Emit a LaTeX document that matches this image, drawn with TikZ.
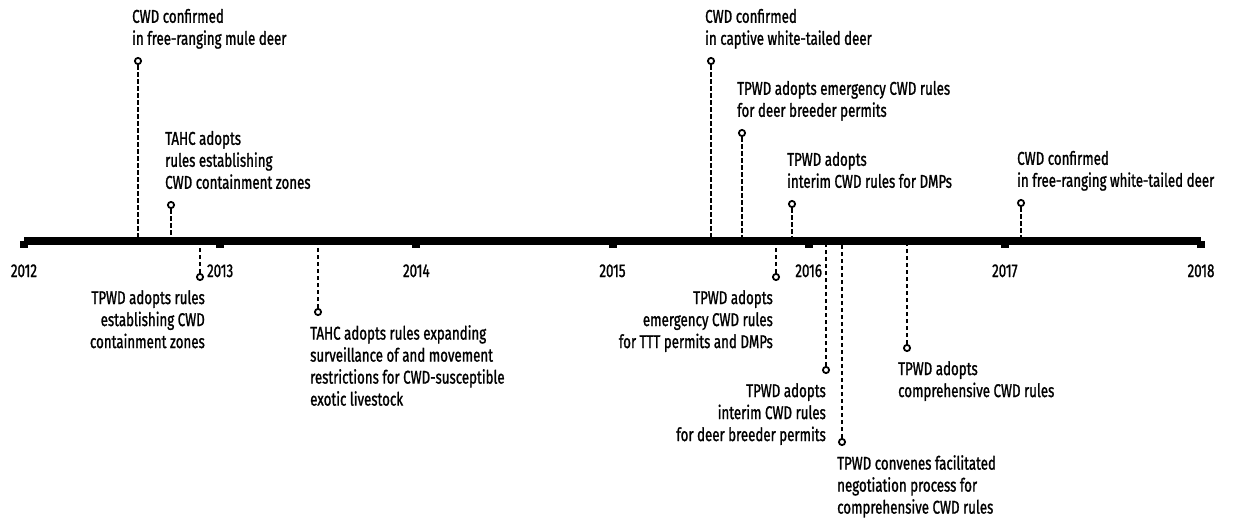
\documentclass[tikz,border=0pt]{standalone}
\usepackage{fontspec}
\setmainfont{Fira Sans}[FakeStretch=0.72, FakeBold=1.2]
\usetikzlibrary{positioning}
\definecolor{inkblack}{HTML}{000000}

\begin{document}
\begin{tikzpicture}[x=1pt, y=-1pt,
    every node/.style={font=\fontsize{18.5}{22}\selectfont, inner sep=0pt, inkblack},
    evdot/.style={circle, draw=inkblack, line width=1.8pt, minimum size=6.2pt, fill=white},
    evstem/.style={inkblack, line width=1.7pt, dash pattern=on 4.5pt off 2.5pt},
    uplabel/.style={anchor=south west, align=left, execute at end node=\strut},
    downleft/.style={anchor=north west, align=left, execute at begin node=\strut},
    downright/.style={anchor=north east, align=right, execute at begin node=\strut}]
  \useasboundingbox (0,0) rectangle (1236,522);

  % Hitos sobre el eje
  \node[evdot] (d1) at (138,61) {};
  \coordinate (a1) at (138,241);
  \draw[evstem] (d1) -- (a1);
  \node[uplabel] (t1) at (132,51.6) {CWD confirmed\\in free-ranging mule deer};

  \node[evdot] (d2) at (171,205) {};
  \coordinate (a2) at (171,241);
  \draw[evstem] (d2) -- (a2);
  \node[uplabel] (t2) at (165,195.6) {TAHC adopts\\rules establishing\\CWD containment zones};

  \node[evdot] (d3) at (711,61) {};
  \coordinate (a3) at (711,241);
  \draw[evstem] (d3) -- (a3);
  \node[uplabel] (t3) at (705,51.6) {CWD confirmed\\in captive white-tailed deer};

  \node[evdot] (d4) at (742,133) {};
  \coordinate (a4) at (742,241);
  \draw[evstem] (d4) -- (a4);
  \node[uplabel] (t4) at (737,123.6) {TPWD adopts emergency CWD rules\\for deer breeder permits};

  \node[evdot] (d5) at (792,204) {};
  \coordinate (a5) at (792,241);
  \draw[evstem] (d5) -- (a5);
  \node[uplabel] (t5) at (787,194.6) {TPWD adopts\\interim CWD rules for DMPs};

  \node[evdot] (d6) at (1021,203) {};
  \coordinate (a6) at (1021,241);
  \draw[evstem] (d6) -- (a6);
  \node[uplabel] (t6) at (1017,193.6) {CWD confirmed\\in free-ranging white-tailed deer};

  % Hitos bajo el eje
  \node[evdot] (d7) at (200,277) {};
  \coordinate (a7) at (200,241);
  \draw[evstem] (d7) -- (a7);
  \node[downright] (t7) at (205,290) {TPWD adopts rules\\establishing CWD\\containment zones};

  \node[evdot] (d8) at (318,312) {};
  \coordinate (a8) at (318,241);
  \draw[evstem] (d8) -- (a8);
  \node[downleft] (t8) at (310,325) {TAHC adopts rules expanding\\surveillance of and movement\\restrictions for CWD-susceptible\\exotic livestock};

  \node[evdot] (d9) at (776,277) {};
  \coordinate (a9) at (776,241);
  \draw[evstem] (d9) -- (a9);
  \node[downright] (t9) at (773,290) {TPWD adopts\\emergency CWD rules\\for TTT permits and DMPs};

  \node[evdot] (d10) at (826,370) {};
  \coordinate (a10) at (826,241);
  \draw[evstem] (d10) -- (a10);
  \node[downright] (t10) at (826,383) {TPWD adopts\\interim CWD rules\\for deer breeder permits};

  \node[evdot] (d11) at (842,442) {};
  \coordinate (a11) at (842,241);
  \draw[evstem] (d11) -- (a11);
  \node[downleft] (t11) at (837,455) {TPWD convenes facilitated\\negotiation process for\\comprehensive CWD rules};

  \node[evdot] (d12) at (907,348) {};
  \coordinate (a12) at (907,241);
  \draw[evstem] (d12) -- (a12);
  \node[downleft] (t12) at (898,361) {TPWD adopts\\comprehensive CWD rules};

  % Eje temporal
  \coordinate (axL) at (24,241);
  \coordinate (axR) at (1201,241);
  \draw[line width=7.7pt, inkblack] (axL) -- (axR);

  % Marcas de año
  \foreach \yr [count=\i from 0] in {2012,...,2018} {
    \fill[inkblack] (24+196.17*\i-4,241) rectangle ++(8,7);
    \node[anchor=base] (y\yr) at (24+196.17*\i,277) {\yr};
  }
\end{tikzpicture}
\end{document}
